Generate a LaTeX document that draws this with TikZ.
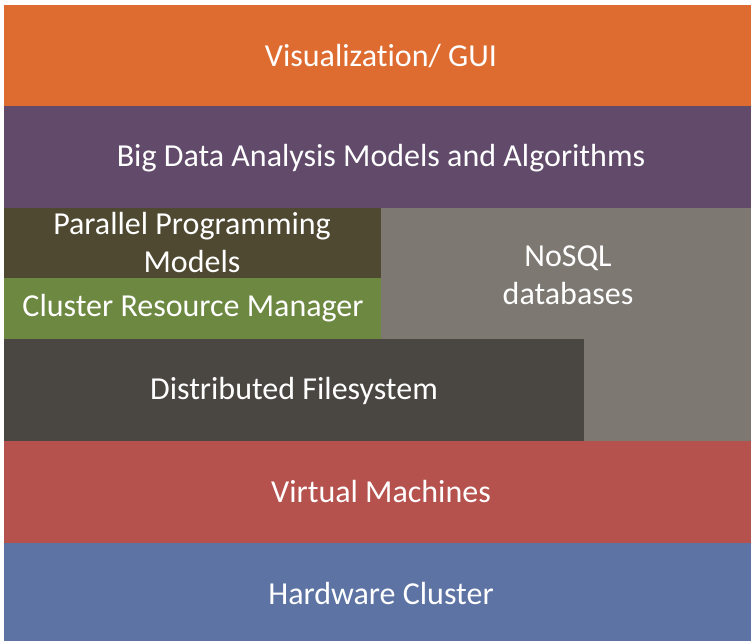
\documentclass[tikz,border=0pt]{standalone}
\usepackage{fontspec}
\setmainfont[Ligatures={NoCommon}]{Carlito}
\definecolor{cviz}{HTML}{DE6C30}
\definecolor{cbig}{HTML}{614A6A}
\definecolor{cpar}{HTML}{4E4930}
\definecolor{cclu}{HTML}{6D8841}
\definecolor{cnos}{HTML}{7D7872}
\definecolor{cdfs}{HTML}{4A4742}
\definecolor{cvm}{HTML}{B5524E}
\definecolor{chw}{HTML}{5C73A4}
\begin{document}
\begin{tikzpicture}[x=1bp,y=-1bp,
  lbl/.style={text=white,font=\fontsize{32bp}{38bp}\selectfont,align=center,inner sep=0pt}]
\useasboundingbox (0,0) rectangle (751,641);
\fill[white] (0,0) rectangle (751,641);
% bands
\fill[cviz] (4,5) rectangle (751,106);
\fill[cbig] (4,106) rectangle (751,208);
\fill[cnos] (381,208) -- (751,208) -- (751,441) -- (584,441) -- (584,339) -- (381,339) -- cycle;
\fill[cpar] (4,208) rectangle (381,278);
\fill[cclu] (4,278) rectangle (381,339);
\fill[cdfs] (4,339) rectangle (584,441);
\fill[cvm] (4,441) rectangle (751,543);
\fill[chw] (4,543) rectangle (751,641);
% labels
\node[lbl] (viz) at (381,56) {Visualization/ GUI};
\node[lbl] (big) at (381,158) {Big Data Analysis Models and Algorithms};
\node[lbl] (par) at (192,243) {Parallel Programming\\Models};
\node[lbl] (clu) at (193,308) {Cluster Resource Manager};
\node[lbl] (nos) at (568,275) {NoSQL\\databases};
\node[lbl] (dfs) at (294,391) {Distributed Filesystem};
\node[lbl] (vm) at (381,492) {Virtual Machines};
\node[lbl] (hw) at (381,594) {Hardware Cluster};
\end{tikzpicture}
\end{document}
